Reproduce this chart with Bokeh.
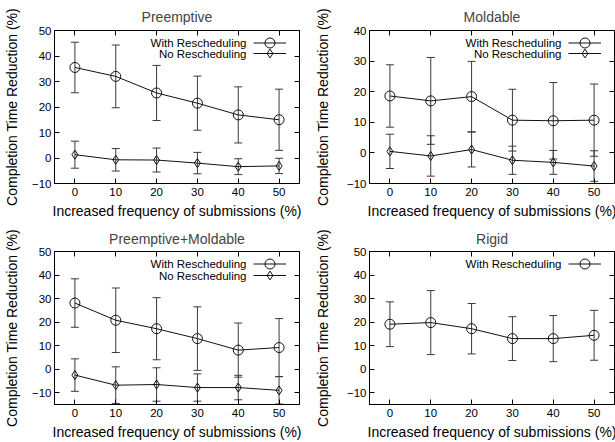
from bokeh.plotting import figure
from bokeh.layouts import column, row
from bokeh.models import (ColumnDataSource, Whisker, TeeHead, LinearAxis, FixedTicker,
                          Range1d, Legend, LegendItem, Label)
from bokeh.embed import file_html
from bokeh.resources import INLINE

FONT = "Liberation Sans"

# ---------------- data ----------------
freq = [0, 10, 20, 30, 40, 50]
x_ticks = [0, 10, 20, 30, 40, 50]

titles = ["Preemptive", "Moldable", "Preemptive+Moldable", "Rigid"]
x_label = "Increased frequency of submissions (%)"
y_label = "Completion Time Reduction (%)"
series_names = ["With Rescheduling", "No Rescheduling"]

pre_with = [35.5, 32.0, 25.5, 21.5, 16.9, 15.0]
pre_with_err = [9.9, 12.3, 10.8, 10.6, 11.0, 12.0]
pre_no = [1.3, -0.7, -0.8, -2.0, -3.4, -3.1]
pre_no_err = [5.3, 4.4, 4.7, 4.2, 3.1, 3.0]

mold_with = [18.6, 17.0, 18.4, 10.7, 10.5, 10.7]
mold_with_err = [10.2, 14.2, 11.5, 10.1, 12.5, 11.8]
mold_no = [0.5, -1.0, 1.1, -2.4, -3.1, -4.3]
mold_no_err = [5.6, 6.6, 5.7, 4.6, 3.9, 5.0]

pm_with = [28.1, 20.8, 17.2, 13.0, 8.1, 9.2]
pm_with_err = [10.3, 13.7, 13.2, 13.5, 11.5, 12.3]
pm_no = [-2.5, -6.8, -6.5, -7.8, -7.8, -9.0]
pm_no_err = [6.9, 7.8, 7.1, 5.8, 5.2, 5.8]

rigid_with = [19.1, 19.8, 17.2, 13.0, 13.0, 14.4]
rigid_with_err = [9.5, 13.6, 10.7, 9.3, 9.8, 10.6]

y_ranges = [(-10, 50), (-10, 40), (-15, 50), (-15, 50)]

FW, FH = 245, 153


def style_axis(ax, ticks, hidden=False):
    ax.ticker = FixedTicker(ticks=ticks)
    ax.major_tick_in = 5
    ax.major_tick_out = 0
    ax.minor_tick_in = 0
    ax.minor_tick_out = 0
    ax.axis_line_color = "black"
    ax.major_tick_line_color = "black"
    ax.major_label_text_font = FONT
    ax.major_label_text_font_size = "11.5px"
    ax.major_label_text_color = "black"
    ax.axis_label_text_font = FONT
    ax.axis_label_text_font_size = "14px"
    ax.axis_label_text_font_style = "normal"
    ax.axis_label_text_color = "black"
    if hidden:
        ax.major_label_overrides = {t: "" for t in ticks}
        ax.major_label_standoff = 0


def panel(title, yr, series, lb, rb, tb, bb, title_standoff, xs1, xs2, ys1, ys2, rows):
    p = figure(frame_width=FW, frame_height=FH, x_range=Range1d(-5, 55),
               y_range=Range1d(*yr), output_backend="svg", toolbar_location=None,
               min_border_left=lb, min_border_right=rb, min_border_top=tb,
               min_border_bottom=bb, title=title)
    p.title.text_font = FONT
    p.title.text_font_size = "14px"
    p.title.text_font_style = "normal"
    p.title.align = "center"
    p.title.standoff = title_standoff
    p.grid.visible = False
    p.outline_line_color = "black"
    p.outline_line_width = 1
    p.background_fill_color = "white"

    yt = list(range(-10, yr[1] + 1, 10))
    style_axis(p.xaxis[0], x_ticks)
    style_axis(p.yaxis[0], yt)
    p.xaxis[0].axis_label = x_label
    p.yaxis[0].axis_label = y_label
    p.xaxis[0].major_label_standoff = xs1
    p.xaxis[0].axis_label_standoff = xs2
    p.yaxis[0].major_label_standoff = ys1
    p.yaxis[0].axis_label_standoff = ys2

    ax_r = LinearAxis()
    style_axis(ax_r, yt, hidden=True)
    p.add_layout(ax_r, "right")
    ax_t = LinearAxis()
    style_axis(ax_t, x_ticks, hidden=True)
    p.add_layout(ax_t, "above")

    for i, (name, ys, err, marker, size) in enumerate(series):
        src = ColumnDataSource(dict(x=freq, y=ys,
                                    upper=[a + b for a, b in zip(ys, err)],
                                    lower=[a - b for a, b in zip(ys, err)]))
        w = Whisker(source=src, base="x", upper="upper", lower="lower",
                    line_color="#3a3a3a", line_width=1,
                    upper_head=TeeHead(size=8, line_color="#3a3a3a", line_width=1),
                    lower_head=TeeHead(size=8, line_color="#3a3a3a", line_width=1))
        p.add_layout(w)
        lr = p.line("x", "y", source=src, line_color="#111111", line_width=1)
        sr = p.scatter("x", "y", source=src, marker=marker, size=size,
                       fill_color=None, line_color="#111111", line_width=1)
        cy = FH - rows[i]
        gh = int(round(size / 0.4))
        leg = Legend(items=[LegendItem(label=" ", renderers=[lr, sr])],
                     location=(199, int(round(cy - gh / 2))), glyph_width=33, glyph_height=gh,
                     label_width=0, label_standoff=0, label_height=0,
                     label_text_font_size="1px", padding=0, margin=0, spacing=0,
                     border_line_alpha=0, background_fill_alpha=0)
        p.add_layout(leg)
        p.add_layout(Label(x=192, y=cy, x_units="screen", y_units="screen", text=name,
                           text_align="right", text_baseline="middle", text_font=FONT,
                           text_font_size="11.5px", text_color="black"))
    return p


p1 = panel(titles[0], y_ranges[0],
           [(series_names[0], pre_with, pre_with_err, "circle", 10),
            (series_names[1], pre_no, pre_no_err, "diamond", 9)],
           45, 12, 29, 40, 12, 4, 4, 3, 9, [12.7, 23.3])
p2 = panel(titles[1], y_ranges[1],
           [(series_names[0], mold_with, mold_with_err, "circle", 10),
            (series_names[1], mold_no, mold_no_err, "diamond", 9)],
           57, 2, 29, 40, 12, 4, 4, 3, 13, [12.7, 23.3])
p3 = panel(titles[2], y_ranges[2],
           [(series_names[0], pm_with, pm_with_err, "circle", 10),
            (series_names[1], pm_no, pm_no_err, "diamond", 9)],
           45, 12, 27, 40, 10, 4, 4, 3, 9, [12.4, 24.0])
p4 = panel(titles[3], y_ranges[3],
           [(series_names[0], rigid_with, rigid_with_err, "circle", 10)],
           57, 2, 27, 40, 10, 4, 4, 3, 13, [12.4])

layout = column(row(p1, p2), row(p3, p4))
open("out.html", "w").write(file_html(layout, INLINE))
